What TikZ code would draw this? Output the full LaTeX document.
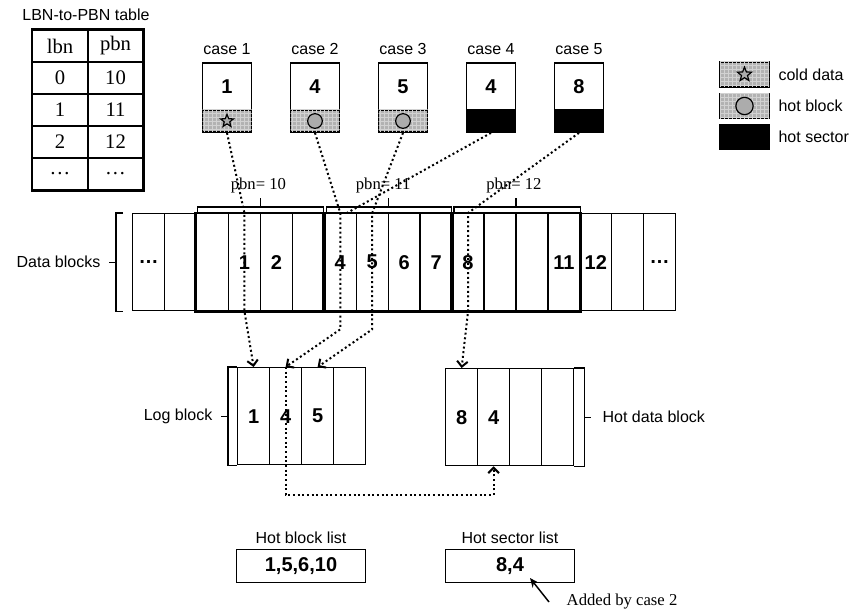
\documentclass[tikz,border=0pt]{standalone}
\usepackage{fontspec}
\setmainfont{Liberation Serif}
\setsansfont{Liberation Sans}
\usetikzlibrary{arrows.meta, positioning, calc, shapes.geometric, patterns}

\begin{document}
\begin{tikzpicture}[
    x=0.75pt, y=0.75pt,
    >=Stealth,
    lbl/.style={font=\sffamily\fontsize{12}{14}\selectfont},
    num/.style={font=\sffamily\bfseries\fontsize{15}{17}\selectfont},
    pbn/.style={font=\fontsize{12.5}{14}\selectfont},
    tab/.style={draw, line width=1.1pt, minimum width=41.5pt, minimum height=24pt, inner sep=0pt, font=\fontsize{15.5}{17}\selectfont},
    cell/.style={draw, line width=1pt, minimum width=23.95pt, minimum height=72.75pt, inner sep=0pt, anchor=north west, num},
    casebox/.style={draw, line width=1.3pt, minimum width=36.75pt, minimum height=35.25pt, inner sep=0pt, num},
    swatch/.style={draw, line width=1.3pt, minimum width=36.75pt, minimum height=16.5pt, inner sep=0pt},
    listbox/.style={draw, line width=1.3pt, minimum width=96.75pt, minimum height=24.75pt, inner sep=0pt, num},
    cold/.style={fill=gray!60, postaction={pattern=grid, pattern color=white!65!gray}},
    hot/.style={fill=black},
    sym/.style={draw, line width=0.9pt, fill=gray!65, inner sep=0pt},
    grp/.style={line width=2.2pt},
    brk/.style={line width=1pt},
    link/.style={dotted, line width=1.5pt, -{Straight Barb[length=4pt, width=8pt]}},
  ]
    \useasboundingbox (0,0) rectangle (856,-613);
    % ===== LBN-to-PBN table =====
    \node[lbl] (ttl) at (86,-15) {LBN-to-PBN table};
    \foreach \l/\p [count=\r] in {lbn/pbn, 0/10, 1/11, 2/12, \dots/\dots} {
      \node[tab] (tl\r) at (60,-14-32*\r) {\l};
      \node[tab] (tp\r) at (115.5,-14-32*\r) {\p};
    }
    \draw[line width=1.5pt] (tl1.north west) rectangle (tp5.south east);
    % ===== cases 1-5 =====
    \foreach \v [count=\i] in {1,4,5,4,8} {
      \node[casebox] (cb\i) at (139+88*\i,-86.5) {\v};
      \node[lbl, above=2pt of cb\i] {case \i};
    }
    \foreach \s [count=\i] in {cold,cold,cold,hot,hot}
      \node[swatch, \s] (cs\i) at (139+88*\i,-121) {};
    \node[sym, star, star points=5, star point ratio=2.3, minimum size=10pt] at (cs1) {};
    \node[sym, circle, minimum size=11pt] at (cs2) {};
    \node[sym, circle, minimum size=11pt] at (cs3) {};
    % ===== legend =====
    \node[swatch, cold, minimum height=18.75pt] (lg1) at (744.5,-74.5) {};
    \node[swatch, cold, minimum height=18.75pt] (lg2) at (744.5,-106) {};
    \node[swatch, hot,  minimum height=18.75pt] (lg3) at (744.5,-137) {};
    \node[sym, star, star points=5, star point ratio=2.3, minimum size=11pt] at (lg1) {};
    \node[sym, circle, minimum size=13pt] at (lg2) {};
    \node[lbl, right=3pt of lg1] {cold data};
    \node[lbl, right=3pt of lg2] {hot block};
    \node[lbl, right=3pt of lg3] {hot sector};
    % ===== data blocks =====
    \foreach \t [count=\i from 0] in {\dots,{},{},1,2,{},4,5,6,7,8,{},{},11,12,{},\dots}
      \node[cell] (d\i) at (132+31.94*\i,-213) {\t};
    \draw[grp] (d2.north west) rectangle (d5.south east);
    \draw[grp] (d6.north west) rectangle (d9.south east);
    \draw[grp] (d10.north west) rectangle (d13.south east);
    % pbn brackets
    \draw[brk] ([xshift=1pt]d2.north west) -- ++(0,6) -| ([xshift=-1pt]d5.north east);
    \draw[brk] ([xshift=2pt]d6.north west) -- ++(0,6) -| ([xshift=-1pt]d9.north east);
    \draw[brk] ([xshift=2pt]d10.north west) -- ++(0,6) -| (d13.north east);
    \draw[brk] ($(d2.north west)!0.5!(d5.north east)+(0,6)$) -- ++(0,9);
    \draw[brk] ($(d6.north west)!0.5!(d9.north east)+(0,6)$) -- ++(0,9);
    \draw[brk] ($(d10.north west)!0.5!(d13.north east)+(0,6)$) -- ++(0,9);
    \node[pbn] (p10) at ($(d2.north west)!0.5!(d5.north east)+(-2,28)$) {pbn= 10};
    \node[pbn] (p11) at ($(d6.north west)!0.5!(d9.north east)+(-5,28)$) {pbn= 11};
    \node[pbn] (p12) at ($(d10.north west)!0.5!(d13.north east)+(-2,28)$) {pbn= 12};
    % data blocks brace
    \draw[brk] ($(d0.north west)+(-9,0)$) -- ++(-7,0) |- ($(d0.south west)+(-9,0)$);
    \draw[brk] ($(d0.west)+(-16,0)$) -- ++(-7,0) coordinate (dbt);
    \node[lbl, left=3pt of dbt] {Data blocks};
    % ===== log block / hot data block =====
    \foreach \t [count=\i] in {1,4,5,{}}
      \node[cell] (l\i) at (205+32*\i,-367) {\t};
    \foreach \t [count=\i] in {8,4,{},{}}
      \node[cell] (h\i) at (413+32*\i,-368) {\t};
    \draw[brk] (l1.north west) -- ++(-9,0) |- (l1.south west);
    \draw[brk] ($(l1.west)+(-9,0)$) -- ++(-7,0) coordinate (lbt);
    \node[lbl, left=3pt of lbt] {Log block};
    \draw[brk] (h4.north east) -- ++(10,0) |- (h4.south east);
    \draw[brk] ($(h4.east)+(10,0)$) -- ++(7,0) coordinate (hbt);
    \node[lbl, right=5pt of hbt] {Hot data block};
    % ===== hot lists =====
    \node[listbox] (hbl) at (301,-566) {1,5,6,10};
    \node[lbl, above=0pt of hbl] {Hot block list};
    \node[listbox] (hsl) at (510,-566) {8,4};
    \node[lbl, above=0pt of hsl] {Hot sector list};
    \node[pbn, anchor=west] (added) at (562,-602) {Added by case 2};

    % ===== dotted links =====
    \draw[link] (cs1.south) -- (d3.north) -- (d3.south) -- (l1.north);
    \draw[link] (cs2.south) -- (d6.north) -- (d6.south) -- ++(0,-18) -- (l2.north);
    \draw[link] (cs3.south) -- (d7.north) -- (d7.south) -- ++(0,-18) -- (l3.north);
    \draw[link, -] (cs4.south) -- ([xshift=5pt]d6.north);
    \draw[link] (cs5.south) -- (d10.north) -- (d10.south) -- (h1.north);
    \coordinate (low) at (0,-495);
    \draw[link] (l2.north) -- (l2.north |- low) -| (h2.south);
    % ===== added by case 2 =====
    \coordinate (tail) at (549,-602);
    \coordinate (tip)  at (530,-578);
    \draw[-{Stealth[length=7pt, width=6pt]}, line width=1.1pt] (tail) -- (tip);
  \end{tikzpicture}
\end{document}
